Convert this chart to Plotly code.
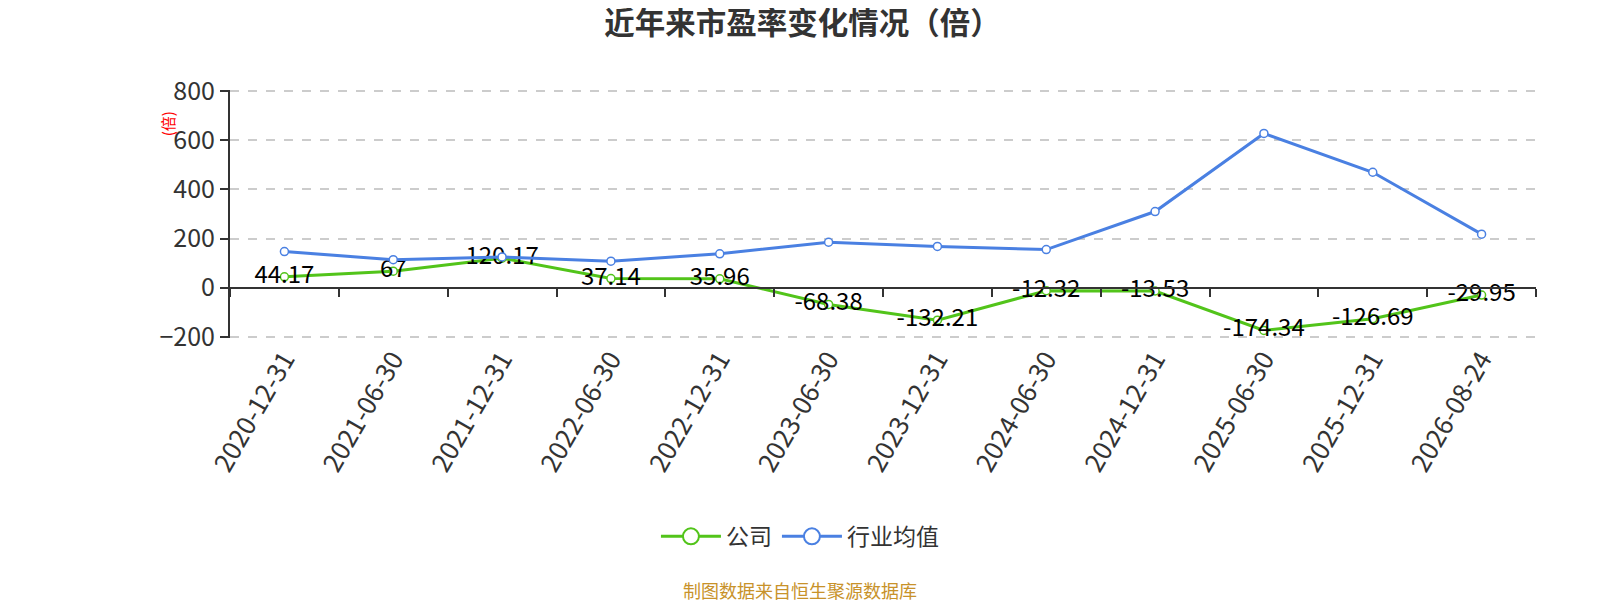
import plotly.graph_objects as go

# 报告期
dates = ["2020-12-31", "2021-06-30", "2021-12-31", "2022-06-30", "2022-12-31", "2023-06-30",
         "2023-12-31", "2024-06-30", "2024-12-31", "2025-06-30", "2025-12-31", "2026-08-24"]
# 公司市盈率（倍）
company_pe = [44.17, 67, 120.17, 37.14, 35.96, -68.38, -132.21, -12.32, -13.53, -174.34, -126.69, -29.95]
# 行业均值
industry_pe = [147, 114, 125, 108, 138, 185, 168, 155, 310, 628, 470, 218]
y_ticks = [-200, 0, 200, 400, 600, 800]

green = "#52c41a"
blue = "#4a80e2"
font_cn = "Noto Sans CJK SC"

fig = go.Figure()

fig.add_trace(go.Scatter(
    x=dates, y=company_pe, name="公司", mode="lines+markers+text",
    line=dict(color=green, width=3),
    marker=dict(size=8, color="white", line=dict(color=green, width=1.5)),
    text=[f"{v:g}" for v in company_pe], textposition="middle center",
    textfont=dict(size=24, color="black"), showlegend=False,
))
fig.add_trace(go.Scatter(
    x=dates, y=industry_pe, name="行业均值", mode="lines+markers",
    line=dict(color=blue, width=3),
    marker=dict(size=8, color="white", line=dict(color=blue, width=1.5)),
    showlegend=False,
))

# legend entries with bigger symbols
for nm, c in [("公司", green), ("行业均值", blue)]:
    fig.add_trace(go.Scatter(
        x=[None], y=[None], name=nm, mode="lines+markers",
        line=dict(color=c, width=3),
        marker=dict(size=23, color="white", line=dict(color=c, width=2)),
    ))

# invisible trace so the zero-line axis gets drawn
fig.add_trace(go.Scatter(
    x=dates, y=industry_pe, xaxis="x2", mode="markers",
    marker=dict(opacity=0), hoverinfo="skip", showlegend=False,
))

ncat = len(dates)
# a little padding so the gridlines at -200 and 800 are still drawn
y0, y1 = y_ticks[0] - 5, y_ticks[-1] + 5

# page body has an 8px margin, so the figure is 8px smaller and shifted back
fig.update_layout(
    width=1592, height=592,
    margin=dict(l=222, r=64, t=82, b=262, autoexpand=False),
    paper_bgcolor="white", plot_bgcolor="white",
    font=dict(family=font_cn, color="#333"),
    title=dict(text="<b>近年来市盈率变化情况（倍）</b>", x=0.4991, xanchor="center",
               y=0.974, yanchor="middle", font=dict(size=30.5, color="#333")),
    xaxis=dict(type="category", categoryorder="array", categoryarray=dates,
               range=[-0.5, ncat - 0.5],
               showline=False, showgrid=False, ticks="", tickangle=-60,
               tickfont=dict(size=26, color="#333")),
    xaxis2=dict(type="category", categoryorder="array", categoryarray=dates,
                overlaying="x", anchor="free", position=(0 - y0) / (y1 - y0), matches="x",
                showline=True, linecolor="#333", linewidth=2,
                ticks="outside", ticklen=8, tickwidth=2, tickcolor="#333",
                tickson="boundaries", showticklabels=False, showgrid=False),
    yaxis=dict(range=[y0, y1], tickvals=y_ticks, zeroline=False,
               showgrid=True, gridcolor="#cccccc", griddash="dash", gridwidth=1.5,
               showline=True, linecolor="#333", linewidth=2,
               ticks="outside", ticklen=8, tickwidth=2, tickcolor="#333",
               tickfont=dict(size=25, color="#333")),
    legend=dict(orientation="h", x=0.4364, xanchor="center", y=-0.80, yanchor="middle",
                font=dict(size=23, color="#333"), itemwidth=60),
)

fig.add_annotation(text="(倍)", xref="paper", yref="paper", x=-0.0482, y=0.862,
                   xanchor="center", yanchor="middle",
                   showarrow=False, textangle=-90, font=dict(size=15, color="red"))
fig.add_annotation(text="制图数据来自恒生聚源数据库", xref="paper", yref="paper",
                   x=0.4364, y=-1.017, yanchor="middle", showarrow=False,
                   font=dict(size=18, color="#c8922a"))

fig.write_html("out.html")
